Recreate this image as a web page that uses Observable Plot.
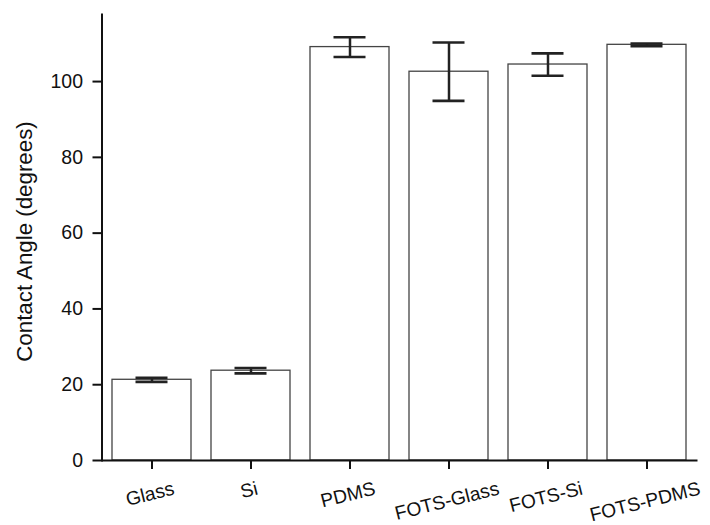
<!DOCTYPE html>
<html>
<head>
<meta charset="utf-8">
<script src="https://cdn.jsdelivr.net/npm/d3@7"></script>
<script src="https://cdn.jsdelivr.net/npm/@observablehq/plot@0.6"></script>
<style>
  html, body { margin: 0; padding: 0; background: #fff; }
  #chart { width: 710px; height: 525px; }
</style>
</head>
<body>
<div id="chart"></div>
<script>
const categories = ["Glass", "Si", "PDMS", "FOTS-Glass", "FOTS-Si", "FOTS-PDMS"];
const means = [21.3, 23.7, 109.1, 102.6, 104.5, 109.7];
const errors = [0.55, 0.7, 2.6, 7.7, 2.95, 0.35];
const yTicks = [0, 20, 40, 60, 80, 100];

const data = categories.map((c, i) => ({
  cat: c, mean: means[i], lo: means[i] - errors[i], hi: means[i] + errors[i]
}));

const font = "'Liberation Sans', Arial, Helvetica, sans-serif";
const labelSize = 19.2;
const angle = -14;

// measure label widths to keep the rotated label boxes top-aligned
const ctx = document.createElement("canvas").getContext("2d");
ctx.font = `${labelSize}px 'Liberation Sans'`;
const rad = Math.abs(angle) * Math.PI / 180;
const labelDy = categories.map(c => {
  const w = ctx.measureText(c).width;
  return 21 + (w / 2) * Math.sin(rad) + (labelSize * 0.36) * Math.cos(rad);
});

const chart = Plot.plot({
  width: 710,
  height: 525,
  marginLeft: 101.5,
  marginRight: 12.5,
  marginTop: 14,
  marginBottom: 65,
  style: { fontFamily: font, background: "#fff", color: "#111" },
  x: { domain: categories, paddingInner: 0.2, paddingOuter: 0.1, axis: null },
  y: { domain: [0, 117.7], axis: null },
  marks: [
    Plot.barY(data, { x: "cat", y: "mean", fill: "white", stroke: "#444", strokeWidth: 1.3 }),
    Plot.ruleX(data, { x: "cat", y1: "lo", y2: "hi", stroke: "#222", strokeWidth: 2.5 }),
    Plot.tickY(data, { x: "cat", y: "lo", stroke: "#222", strokeWidth: 2.6, insetLeft: 23.5, insetRight: 23.5 }),
    Plot.tickY(data, { x: "cat", y: "hi", stroke: "#222", strokeWidth: 2.6, insetLeft: 23.5, insetRight: 23.5 }),
    Plot.axisY({
      ticks: yTicks, tickSize: 9, tickPadding: 10, fontSize: 19.5, strokeWidth: 2,
      label: null
    }),
    Plot.text(["Contact Angle (degrees)"], {
      frameAnchor: "left", rotate: -90, dx: -77, dy: 4, textAnchor: "middle", lineAnchor: "middle",
      fontSize: 22.3, fill: "#111"
    }),
    Plot.axisX({ tickSize: 9, strokeWidth: 2, tickFormat: () => "", label: null }),
    ...categories.map((c, i) => Plot.text([c], {
      x: d => d, y: 0, dx: -2, dy: labelDy[i], rotate: angle, textAnchor: "middle", lineAnchor: "middle",
      fontSize: labelSize, fill: "#111"
    })),
    Plot.frame({ anchor: "left", stroke: "#111", strokeWidth: 2 }),
    Plot.ruleY([0], { stroke: "#111", strokeWidth: 2 })
  ]
});
document.getElementById("chart").appendChild(chart);
</script>
</body>
</html>
